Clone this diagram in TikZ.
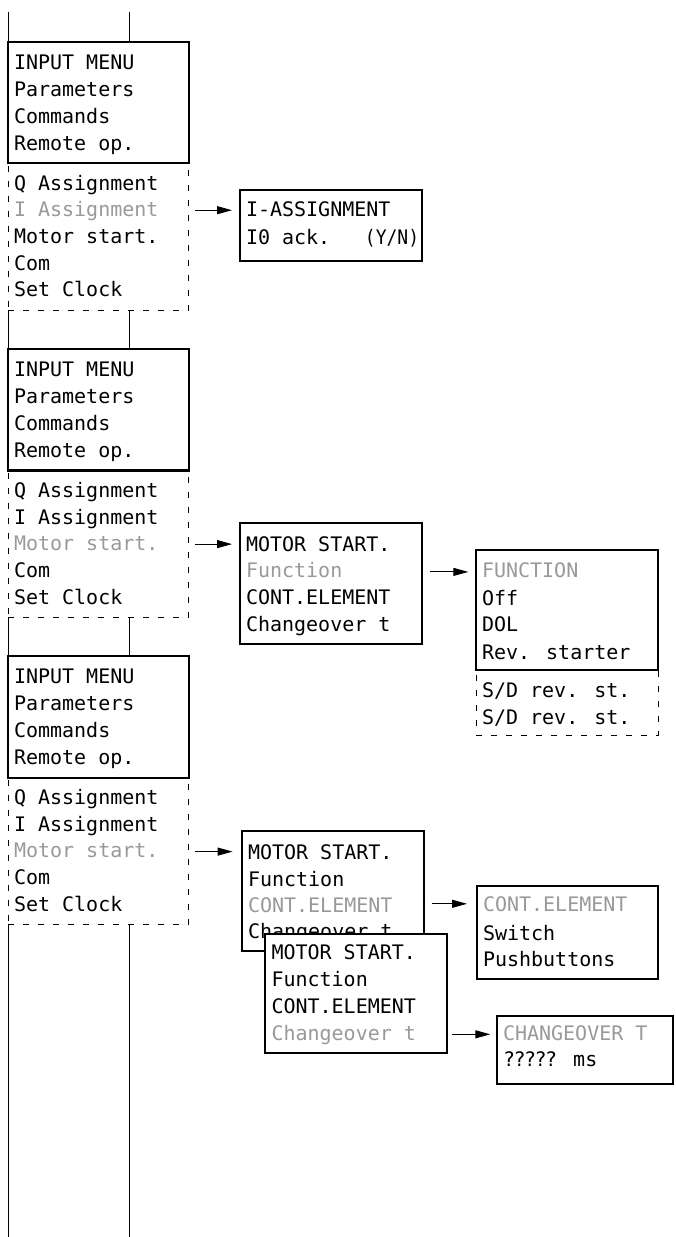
\documentclass[tikz,border=0pt]{standalone}
\usepackage{fontspec}
\newfontfamily\lcdfont{DejaVu Sans Mono}
\usetikzlibrary{arrows.meta}
\definecolor{hlgray}{gray}{0.6}
\begin{document}
\begin{tikzpicture}[x=1pt,y=-1pt,
  box/.style={draw, line width=2.2pt, inner sep=0pt, outer sep=0pt, anchor=north west, fill=white},
  dbox/.style={draw, line width=1pt, dash pattern=on 6pt off 9pt, inner sep=0pt, outer sep=0pt, anchor=north west},
  txt/.style={anchor=base west, inner sep=0pt, outer sep=0pt, font=\lcdfont\fontsize{20}{24}\selectfont},
  hl/.style={text=hlgray},
  arr/.style={-{Triangle[length=15pt,width=8pt]}, line width=1pt},
  vline/.style={line width=1pt}]
\useasboundingbox (0,0) rectangle (675,1237);

% ---------- Block 1 ----------
\node[dbox, minimum width=180.5pt, minimum height=146.7pt] (d1) at (8.3,163.3) {};
\node[box, minimum width=180.5pt, minimum height=121.6pt] (im1) at (8.3,41.7) {};
\node[txt] (a1l1) at (14,69) {INPUT MENU};
\node[txt] (a1l2) at (14,96) {Parameters};
\node[txt] (a1l3) at (14,123) {Commands};
\node[txt] (a1l4) at (14,150) {Remote op.};
\node[txt] (a1l5) at (14,190) {Q Assignment};
\node[txt,hl] (a1l6) at (14,216.8) {I Assignment};
\node[txt] (a1l7) at (14,243.5) {Motor start.};
\node[txt] (a1l8) at (14,270.2) {Com};
\node[txt] (a1l9) at (14,296.9) {Set Clock};

% ---------- Block 2 ----------
\node[dbox, minimum width=180.5pt, minimum height=146.7pt] (d2) at (8.3,470.5) {};
\node[box, minimum width=180.5pt, minimum height=121.6pt] (im2) at (8.3,348.9) {};
\node[txt] (a2l1) at (14,376.2) {INPUT MENU};
\node[txt] (a2l2) at (14,403.2) {Parameters};
\node[txt] (a2l3) at (14,430.2) {Commands};
\node[txt] (a2l4) at (14,457.2) {Remote op.};
\node[txt] (a2l5) at (14,497.2) {Q Assignment};
\node[txt] (a2l6) at (14,524) {I Assignment};
\node[txt,hl] (a2l7) at (14,550.7) {Motor start.};
\node[txt] (a2l8) at (14,577.4) {Com};
\node[txt] (a2l9) at (14,604.1) {Set Clock};

% ---------- Block 3 ----------
\node[dbox, minimum width=180.5pt, minimum height=146.7pt] (d3) at (8.3,777.6) {};
\node[box, minimum width=180.5pt, minimum height=121.6pt] (im3) at (8.3,656) {};
\node[txt] (a3l1) at (14,683.3) {INPUT MENU};
\node[txt] (a3l2) at (14,710.3) {Parameters};
\node[txt] (a3l3) at (14,737.3) {Commands};
\node[txt] (a3l4) at (14,764.3) {Remote op.};
\node[txt] (a3l5) at (14,804.3) {Q Assignment};
\node[txt] (a3l6) at (14,831.1) {I Assignment};
\node[txt,hl] (a3l7) at (14,857.8) {Motor start.};
\node[txt] (a3l8) at (14,884.5) {Com};
\node[txt] (a3l9) at (14,911.2) {Set Clock};

% ---------- I-ASSIGNMENT ----------
\node[box, minimum width=181.7pt, minimum height=70.7pt] (ia) at (240,190) {};
\node[txt] (ial1) at (246,216.7) {I-ASSIGNMENT};
\node[txt] (ial2) at (246,244.3) {I0 ack.\hspace{34.7pt}\scalebox{0.9}[1]{(Y/N)}};

% ---------- MOTOR START 1 ----------
\node[box, minimum width=182.3pt, minimum height=121.3pt] (ms1) at (240,522.7) {};
\node[txt] (m1l1) at (246,551.7) {MOTOR START.};
\node[txt,hl] (m1l2) at (246,577.9) {Function};
\node[txt] (m1l3) at (246,604.3) {CONT.ELEMENT};
\node[txt] (m1l4) at (246,631) {Changeover t};

% ---------- FUNCTION ----------
\node[dbox, minimum width=182.3pt, minimum height=65pt] (fd) at (476,670) {};
\node[box, minimum width=182.3pt, minimum height=120pt] (fn) at (476,550) {};
\node[txt,hl] (fl1) at (482,577.3) {FUNCTION};
\node[txt] (fl2) at (482,605) {Off};
\node[txt] (fl3) at (482,631.7) {DOL};
\node[txt] (fl4) at (482,659.3) {Rev. starter};
\node[txt] (fl5) at (482,697.5) {S/D rev. st.};
\node[txt] (fl6) at (482,724) {S/D rev. st.};

% ---------- MOTOR START 2 ----------
\node[box, minimum width=182pt, minimum height=120pt] (ms2) at (242,831) {};
\node[txt] (m2l1) at (248,859.3) {MOTOR START.};
\node[txt] (m2l2) at (248,886) {Function};
\node[txt,hl] (m2l3) at (248,912.3) {CONT.ELEMENT};
\node[txt] (m2l4) at (248,938.8) {Changeover t};

% ---------- CONT.ELEMENT ----------
\node[box, minimum width=181.3pt, minimum height=93.3pt] (ce) at (477,886) {};
\node[txt,hl] (cl1) at (483,911.7) {CONT.ELEMENT};
\node[txt] (cl2) at (483,940) {Switch};
\node[txt] (cl3) at (483,966.7) {Pushbuttons};

% ---------- MOTOR START 3 (overlapping) ----------
\node[box, minimum width=181.7pt, minimum height=119pt] (ms3) at (265,934.3) {};
\node[txt] (m3l1) at (271.5,959.3) {MOTOR START.};
\node[txt] (m3l2) at (271.5,986.7) {Function};
\node[txt] (m3l3) at (271.5,1013.3) {CONT.ELEMENT};
\node[txt,hl] (m3l4) at (271.5,1040) {Changeover t};

% ---------- CHANGEOVER T ----------
\node[box, minimum width=176pt, minimum height=68pt] (ct) at (497,1016) {};
\node[txt,hl] (tl1) at (503,1040.7) {CHANGEOVER T};
\node[txt] (tl2) at (503,1066.7) {?\kern-1.5pt?\kern-1.5pt?\kern-1.5pt?\kern-1.5pt? ms};

% ---------- vertical lines ----------
\coordinate (topL) at (8.3,11.7);
\coordinate (topR) at (129.3,11.7);
\coordinate (botL) at (8.3,1237);
\coordinate (botR) at (129.3,1237);
\draw[vline] (topL) -- (im1.north west);
\draw[vline] (topR) -- (topR |- im1.north);
\draw[vline] (d1.south west) -- (im2.north west);
\draw[vline] (topR |- d1.south) -- (topR |- im2.north);
\draw[vline] (d2.south west) -- (im3.north west);
\draw[vline] (topR |- d2.south) -- (topR |- im3.north);
\draw[vline] (d3.south west) -- (botL);
\draw[vline] (topR |- d3.south) -- (botR);

% ---------- arrows ----------
\path ([yshift=6.6pt]a1l6.base) coordinate (y1);
\path ([yshift=6.6pt]a2l7.base) coordinate (y2);
\path ([yshift=6pt]m1l2.base) coordinate (y3);
\path ([yshift=6.2pt]a3l7.base) coordinate (y4);
\path ([yshift=8.5pt]m2l3.base) coordinate (y5);
\path ([yshift=5.7pt]m3l4.base) coordinate (y6);
\draw[arr, shorten <=6.2pt, shorten >=8pt] (d1.east |- y1) -- (ia.west |- y1);
\draw[arr, shorten <=6.2pt, shorten >=8pt] (d2.east |- y2) -- (ms1.west |- y2);
\draw[arr, shorten <=7.7pt, shorten >=7.7pt] (ms1.east |- y3) -- (fn.west |- y3);
\draw[arr, shorten <=6.2pt, shorten >=9.4pt] (d3.east |- y4) -- (ms2.west |- y4);
\draw[arr, shorten <=7.7pt, shorten >=10pt] (ms2.east |- y5) -- (ce.west |- y5);
\draw[arr, shorten <=5pt, shorten >=6.7pt] (ms3.east |- y6) -- (ct.west |- y6);
\end{tikzpicture}
\end{document}
